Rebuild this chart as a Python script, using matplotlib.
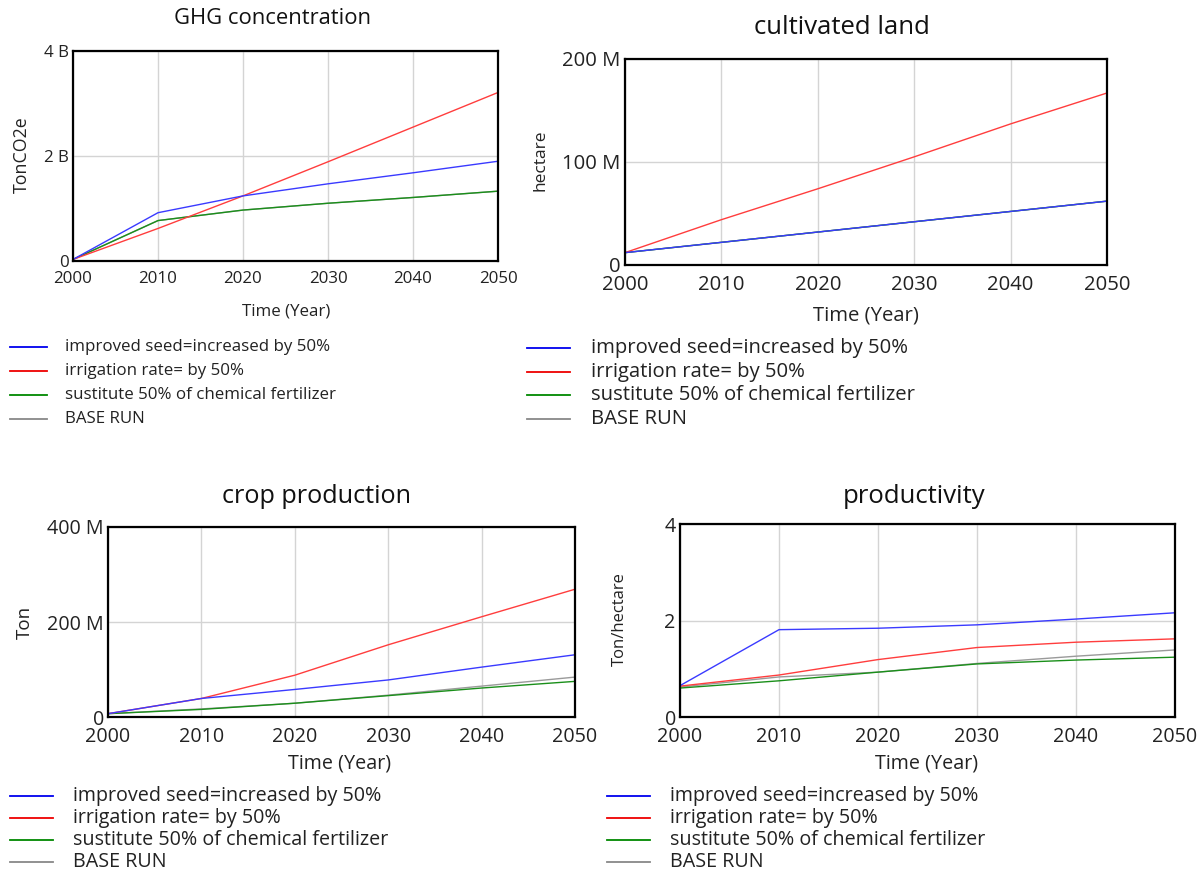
import matplotlib
matplotlib.use("Agg")
import matplotlib.pyplot as plt
from matplotlib.lines import Line2D

plt.rcParams['font.family'] = ['Open Sans', 'DejaVu Sans']

years = [2000, 2010, 2020, 2030, 2040, 2050]
series_names = ["improved seed=increased by 50%", "irrigation rate= by 50%",
                "sustitute 50% of chemical fertilizer", "BASE RUN"]
colors = ['#3a3aff', '#ff3d3d', '#1a8f1a', '#9a9a9a']
legend_colors = ['#0000ee', '#ee0000', '#008800', '#888888']

# GHG concentration (TonCO2e)
ghg_seed = [0.03e9, 0.92e9, 1.24e9, 1.47e9, 1.68e9, 1.90e9]
ghg_irr = [0.03e9, 0.62e9, 1.24e9, 1.89e9, 2.55e9, 3.21e9]
ghg_fert = [0.03e9, 0.77e9, 0.97e9, 1.10e9, 1.21e9, 1.33e9]
ghg_base = [0.03e9, 0.77e9, 0.97e9, 1.10e9, 1.21e9, 1.33e9]

# cultivated land (hectare)
land_seed = [12e6, 22e6, 32e6, 42e6, 52e6, 62e6]
land_irr = [12e6, 44e6, 74e6, 105e6, 137e6, 167e6]
land_fert = [12e6, 22e6, 32e6, 42e6, 52e6, 62e6]
land_base = [12e6, 22e6, 32e6, 42e6, 52e6, 62e6]

# crop production (Ton)
crop_seed = [7e6, 39e6, 58e6, 78e6, 105e6, 131e6]
crop_irr = [7e6, 39e6, 88e6, 152e6, 211e6, 269e6]
crop_fert = [7e6, 16e6, 29e6, 45e6, 61e6, 75e6]
crop_base = [7e6, 17e6, 29e6, 46e6, 65e6, 84e6]

# productivity (Ton/hectare)
prod_seed = [0.65, 1.81, 1.84, 1.91, 2.03, 2.16]
prod_irr = [0.64, 0.87, 1.19, 1.44, 1.55, 1.62]
prod_fert = [0.60, 0.75, 0.93, 1.10, 1.18, 1.24]
prod_base = [0.62, 0.83, 0.93, 1.11, 1.26, 1.39]

W, H = 1201, 871
fig = plt.figure(figsize=(W / 100, H / 100), dpi=100)


def px(x, y):
    return x / W, 1 - y / H


def panel(box, data, ymax, yticks, ylabels, title, ylab, fs, tfs, yfs, tpos, ypos, xpos, leg):
    l, t, r, b = box
    ax = fig.add_axes([l / W, 1 - b / H, (r - l) / W, (b - t) / H])
    # base run first so the scenarios sit on top of it
    for i in [3, 2, 1, 0]:
        ax.plot(years, data[i], color=colors[i], lw=1.0)
    ax.set_xlim(2000, 2050)
    ax.set_ylim(0, ymax)
    ax.set_xticks(years)
    ax.set_yticks(yticks)
    ax.set_yticklabels(ylabels)
    ax.tick_params(length=0, labelsize=fs, colors='#222222')
    ax.tick_params(axis='x', pad=7)
    ax.tick_params(axis='y', pad=3)
    for lab in ax.get_yticklabels():
        lab.set_verticalalignment('center_baseline')
    ax.grid(True, color='#d4d4d4', lw=1.0)
    ax.set_axisbelow(True)
    for s in ax.spines.values():
        s.set_linewidth(1.6)
        s.set_color('black')
    fig.text(*px(*tpos), title, ha='center', va='center', fontsize=tfs, color='#111111')
    fig.text(*px(*ypos), ylab, ha='center', va='center', rotation=90, fontsize=yfs, color='#222222')
    fig.text(*px(*xpos), "Time (Year)", ha='center', va='center', fontsize=fs, color='#222222')
    lx0, lx1, tx, y0, dy = leg
    for i, name in enumerate(series_names):
        yy = y0 + i * dy
        fig.add_artist(Line2D([lx0 / W, lx1 / W], [1 - yy / H, 1 - yy / H],
                              color=legend_colors[i], lw=1.3))
        fig.text(tx / W, 1 - yy / H, name, ha='left', va='center', fontsize=fs, color='#222222')
    return ax


panel((73, 51, 498, 261), [ghg_seed, ghg_irr, ghg_fert, ghg_base], 4e9,
      [0, 2e9, 4e9], ["0", "2 B", "4 B"], "GHG concentration", "TonCO2e", 12.2, 15.8, 12.8,
      (273, 18), (22, 155), (286, 311), (10, 47, 65, 347, 24))

panel((625, 59, 1107, 265), [land_seed, land_irr, land_fert, land_base], 200e6,
      [0, 100e6, 200e6], ["0", "100 M", "200 M"], "cultivated land", "hectare", 14.6, 18.5, 12.5,
      (842, 27), (541, 160), (866, 315), (527, 570, 591, 348, 23.7))

panel((108, 527, 575, 717), [crop_seed, crop_irr, crop_fert, crop_base], 400e6,
      [0, 200e6, 400e6], ["0", "200 M", "400 M"], "crop production", "Ton", 14.2, 18.2, 13.5,
      (317, 496), (25, 622), (340, 763), (10, 53, 73, 796, 22))

panel((680, 524, 1175, 717), [prod_seed, prod_irr, prod_fert, prod_base], 4,
      [0, 2, 4], ["0", "2", "4"], "productivity", "Ton/hectare", 14.2, 18.5, 12,
      (914, 496), (620, 619), (927, 763), (607, 650, 670, 796, 22))

fig.savefig("out.png", dpi=100)
